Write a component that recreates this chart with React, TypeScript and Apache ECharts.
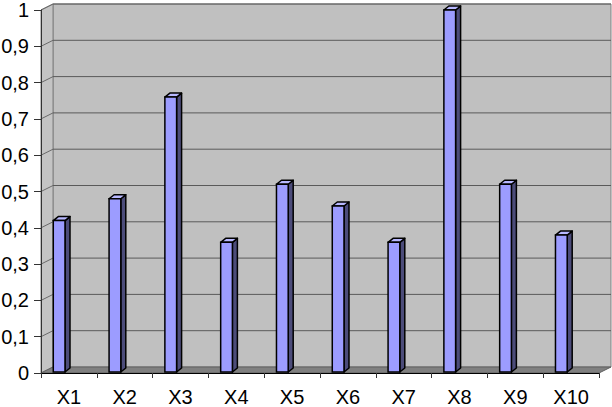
import React, { useEffect, useRef } from "react";
import * as echarts from "echarts";

const categories = ["X1", "X2", "X3", "X4", "X5", "X6", "X7", "X8", "X9", "X10"];
const values = [0.42, 0.48, 0.76, 0.36, 0.52, 0.46, 0.36, 1.0, 0.52, 0.38];
const yTickLabels = ["0", "0,1", "0,2", "0,3", "0,4", "0,5", "0,6", "0,7", "0,8", "0,9", "1"];

const FONT = "Arial, 'Liberation Sans', sans-serif";

export default function App() {
  const ref = useRef<HTMLDivElement>(null);
  useEffect(() => {
    document.body.style.margin = "0";
    const chart = echarts.init(ref.current as HTMLDivElement, null, { renderer: "svg" });
    const DX = 12;
    const DY = -6;
    const BDX = 5;
    const BDY = -4;
    const option: any = {
      animation: false,
      backgroundColor: "#ffffff",
      grid: { left: 41, right: 13, top: 10, bottom: 34, containLabel: false, outerBoundsMode: "none" },
      xAxis: {
        type: "category",
        data: categories,
        axisLine: { show: true, lineStyle: { color: "#000", width: 1 } },
        axisTick: { show: true, length: 5, lineStyle: { color: "#333" } },
        axisLabel: { fontSize: 20, lineHeight: 18, color: "#000", fontFamily: FONT, margin: 15 },
      },
      yAxis: {
        type: "value",
        min: 0,
        max: 1,
        interval: 0.1,
        axisLine: { show: true, lineStyle: { color: "#333", width: 1 } },
        axisTick: { show: true, length: 7, lineStyle: { color: "#333" } },
        splitLine: { show: false },
        axisLabel: {
          fontSize: 20,
          color: "#000",
          fontFamily: FONT,
          margin: 12,
          formatter: (v: number) => yTickLabels[Math.round(v * 10)],
        },
      },
      series: [
        {
          type: "custom",
          z: -5,
          silent: true,
          data: [[0, 0]],
          renderItem: (params: any, api: any) => {
            const cs = params.coordSys;
            const x0 = cs.x;
            const x1 = cs.x + cs.width;
            const y0 = cs.y;
            const yb = cs.y + cs.height;
            const children: any[] = [
              {
                type: "polygon",
                shape: { points: [[x0 + DX, y0 + DY], [x1 + DX, y0 + DY], [x1 + DX, yb + DY], [x0 + DX, yb + DY]] },
                style: { fill: "#C0C0C0", stroke: "#808080", lineWidth: 1 },
              },
              {
                type: "polygon",
                shape: { points: [[x0, y0], [x0 + DX, y0 + DY], [x0 + DX, yb + DY], [x0, yb]] },
                style: { fill: "#C4C4C4", stroke: "#808080", lineWidth: 1 },
              },
              {
                type: "polygon",
                shape: { points: [[x0, yb], [x1, yb], [x1 + DX, yb + DY], [x0 + DX, yb + DY]] },
                style: { fill: "#808080", stroke: "#606060", lineWidth: 1 },
              },
            ];
            for (let i = 1; i < yTickLabels.length; i++) {
              const y = api.coord([0, i / 10])[1];
              children.push({
                type: "line",
                shape: { x1: x0 + DX, y1: y + DY, x2: x1 + DX, y2: y + DY },
                style: { stroke: "#5a5a5a", lineWidth: 1 },
              });
              children.push({
                type: "line",
                shape: { x1: x0, y1: y, x2: x0 + DX, y2: y + DY },
                style: { stroke: "#6a6a6a", lineWidth: 1 },
              });
            }
            return { type: "group", children };
          },
        },
        {
          type: "custom",
          data: values.map((v, i) => [i, v]),
          renderItem: (params: any, api: any) => {
            const c = api.coord([api.value(0), api.value(1)]);
            const base = api.coord([api.value(0), 0]);
            const bw = api.size([1, 0])[0];
            const left = c[0] - bw * 0.28;
            const right = left + bw * 0.21;
            const top = c[1];
            const bottom = base[1] - 1;
            return {
              type: "group",
              children: [
                {
                  type: "polygon",
                  shape: { points: [[right, top], [right + BDX, top + BDY], [right + BDX, bottom + BDY], [right, bottom]] },
                  style: { fill: "#4C4C7A", stroke: "#000", lineWidth: 1.5, lineJoin: "round" },
                },
                {
                  type: "polygon",
                  shape: { points: [[left, top], [right, top], [right + BDX, top + BDY], [left + BDX, top + BDY]] },
                  style: { fill: "#B8B8FF", stroke: "#000", lineWidth: 1.5, lineJoin: "round" },
                },
                {
                  type: "rect",
                  shape: { x: left, y: top, width: right - left, height: bottom - top },
                  style: { fill: "#9C9CFF", stroke: "#000", lineWidth: 1.5 },
                },
              ],
            };
          },
        },
      ],
    };
    chart.setOption(option);
    return () => chart.dispose();
  }, []);
  return <div ref={ref} style={{ width: 612, height: 407 }} />;
}
